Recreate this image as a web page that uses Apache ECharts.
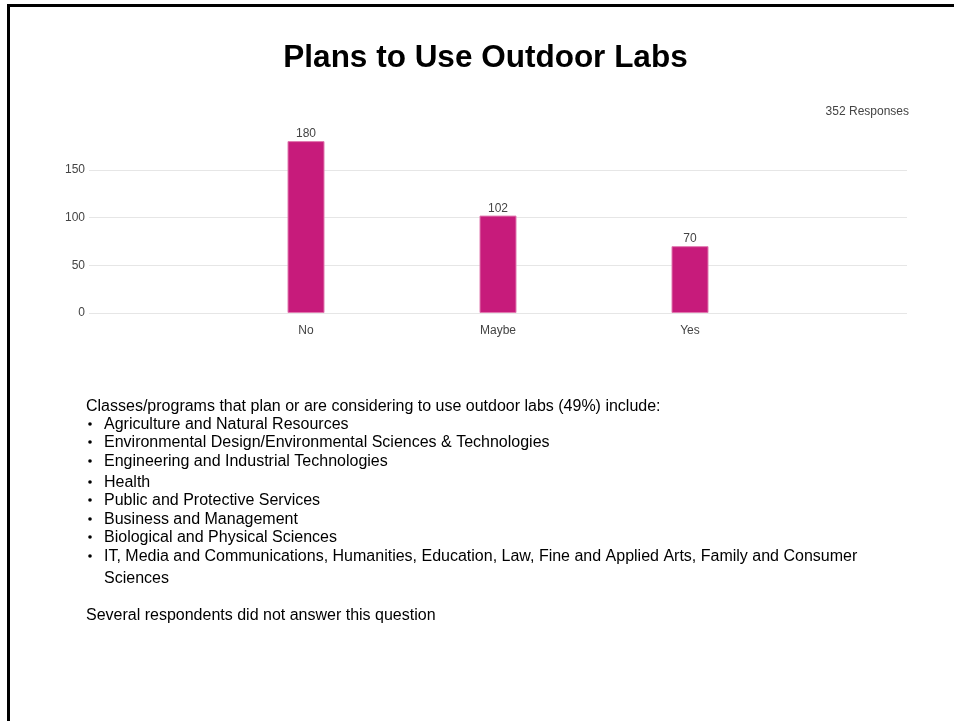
<!DOCTYPE html>
<html>
<head>
<meta charset="utf-8">
<title>Plans to Use Outdoor Labs</title>
<script src="https://cdn.jsdelivr.net/npm/echarts@6/dist/echarts.min.js"></script>
<style>
  html, body { margin: 0; padding: 0; background: #ffffff; }
  #chart { width: 954px; height: 721px; }
</style>
</head>
<body>
<div id="chart"></div>
<script>
// data
const categories = ["No", "Maybe", "Yes"];
const responses = [180, 102, 70];
const responseNote = "352 Responses";
const titleText = "Plans to Use Outdoor Labs";
const introLine = "Classes/programs that plan or are considering to use outdoor labs (49%) include:";
const programs = [
  "Agriculture and Natural Resources",
  "Environmental Design/Environmental Sciences & Technologies",
  "Engineering and Industrial Technologies",
  "Health",
  "Public and Protective Services",
  "Business and Management",
  "Biological and Physical Sciences",
  "IT, Media and Communications, Humanities, Education, Law, Fine and Applied Arts, Family and Consumer\nSciences"
];
const footNote = "Several respondents did not answer this question";

const FONT = "Liberation Sans, Arial, sans-serif";
const barColor = "#c71b7b";

// text placement (vertical centres of each line)
const introY = 407;
const programY = [425, 443, 462, 483, 501, 520, 538, 557];
const footY = 616;

const textEls = [];
textEls.push({
  type: "text", x: 86, y: introY,
  style: { text: introLine, font: "16px " + FONT, fill: "#000", textVerticalAlign: "middle" }
});
programs.forEach(function (p, i) {
  textEls.push({
    type: "circle", silent: true,
    shape: { cx: 90, cy: programY[i] - 1, r: 1.8 },
    style: { fill: "#000" }
  });
  textEls.push({
    type: "text", x: 104, y: programY[i] - 11,
    style: { text: p, font: "16px " + FONT, fill: "#000", lineHeight: 22 }
  });
});
textEls.push({
  type: "text", x: 86, y: footY,
  style: { text: footNote, font: "16px " + FONT, fill: "#000", textVerticalAlign: "middle" }
});

const chart = echarts.init(document.getElementById("chart"), null, { renderer: "canvas" });

const gridTop = 122, gridBottom = 408;

chart.setOption({
  backgroundColor: "#ffffff",
  animation: false,
  textStyle: { fontFamily: FONT },
  graphic: [
    {
      type: "rect", silent: true,
      shape: { x: 8.5, y: 5.5, width: 1000, height: 1000 },
      style: { fill: "none", stroke: "#000", lineWidth: 3 }
    },
    {
      type: "text", x: 485.5, y: 58,
      style: {
        text: titleText, font: "bold 31.5px " + FONT, fill: "#000",
        textAlign: "center", textVerticalAlign: "middle"
      }
    },
    {
      type: "text", x: 909, y: 112,
      style: {
        text: responseNote, font: "12px " + FONT, fill: "#444",
        textAlign: "right", textVerticalAlign: "middle"
      }
    }
  ].concat(textEls),
  grid: [
    { left: 210, right: 168, top: gridTop, bottom: gridBottom },
    { left: 89, right: 47, top: gridTop, bottom: gridBottom }
  ],
  xAxis: [
    {
      type: "category", gridIndex: 0, data: categories,
      axisLine: { show: false }, axisTick: { show: false },
      axisLabel: { color: "#444", fontSize: 12, margin: 12 }
    },
    { type: "value", gridIndex: 1, show: false }
  ],
  yAxis: [
    {
      type: "value", gridIndex: 0, min: 0, max: 200, interval: 50,
      show: false
    },
    {
      type: "value", gridIndex: 1, min: 0, max: 200, interval: 50,
      axisLine: { show: false }, axisTick: { show: false },
      axisLabel: {
        color: "#444", fontSize: 12, margin: 4,
        formatter: function (v) { return v === 200 ? "" : v; }
      },
      splitLine: {
        lineStyle: { color: ["#e6e6e6", "#e6e6e6", "#e6e6e6", "#e6e6e6", "rgba(0,0,0,0)"], width: 1 }
      }
    }
  ],
  series: [
    {
      type: "bar", xAxisIndex: 0, yAxisIndex: 0,
      data: responses, barWidth: 37,
      itemStyle: { color: barColor, borderColor: "#e07ab0", borderWidth: 1 },
      label: { show: true, position: "top", color: "#444", fontSize: 12, distance: 1 }
    }
  ]
});
</script>
</body>
</html>
